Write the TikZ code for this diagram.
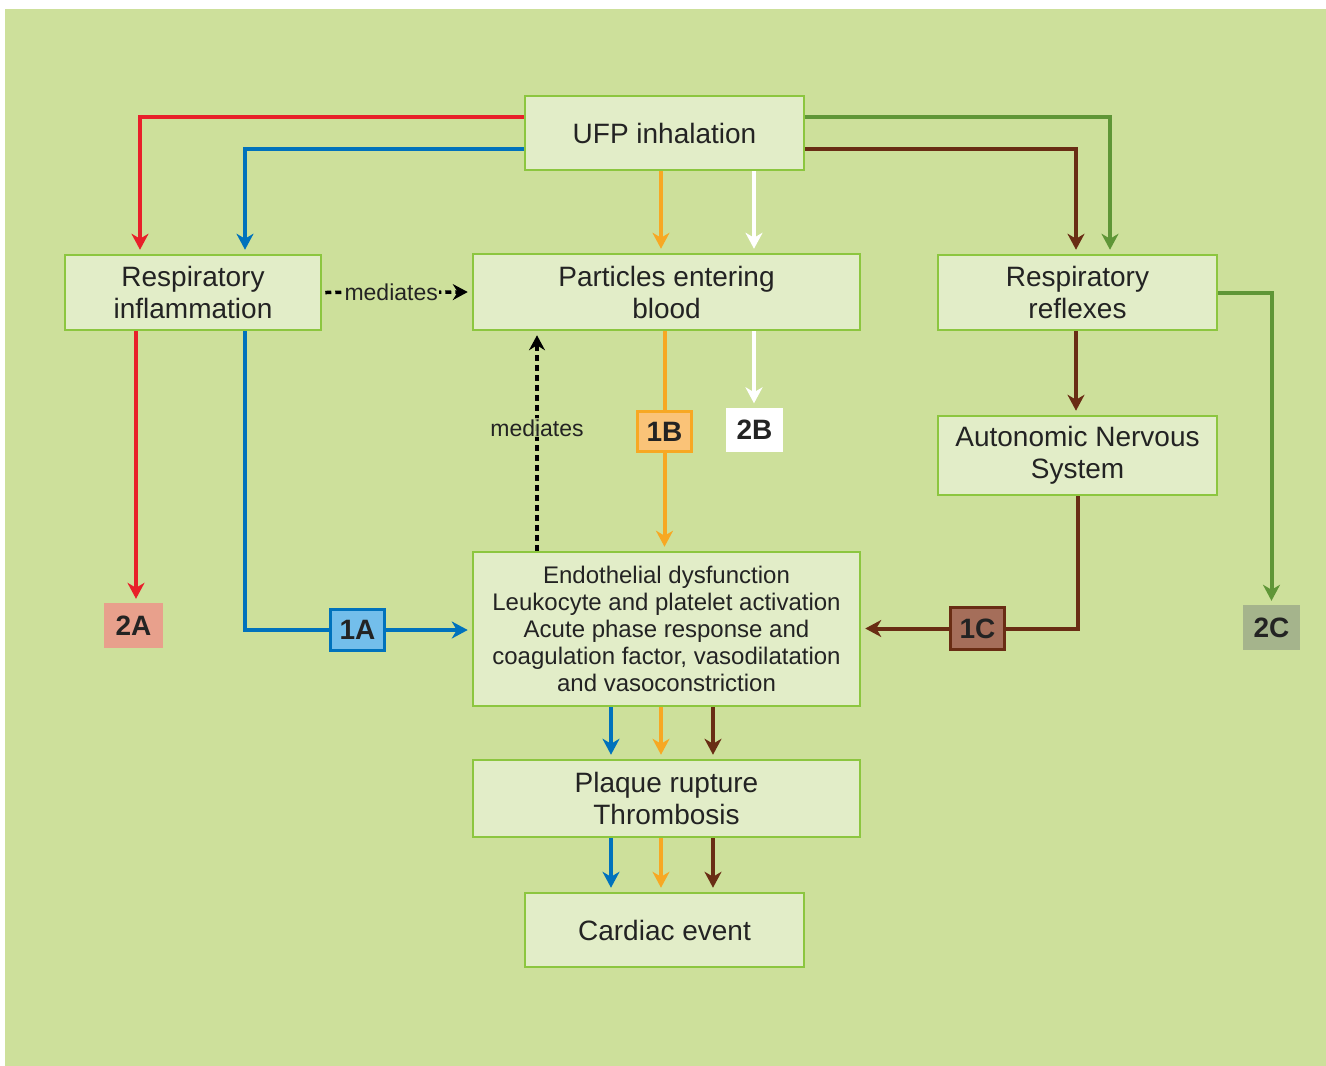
\documentclass[tikz,border=0pt]{standalone}
\usepackage{fontspec}
\setmainfont{Liberation Sans}
\usetikzlibrary{arrows.meta}
\definecolor{bgc}{RGB}{205,224,155}
\definecolor{boxfill}{RGB}{226,237,200}
\definecolor{boxline}{RGB}{140,198,63}
\definecolor{txt}{RGB}{35,35,35}
\definecolor{cRed}{RGB}{232,32,42}
\definecolor{cBlue}{RGB}{0,114,188}
\definecolor{cOrange}{RGB}{247,168,35}
\definecolor{cBrown}{RGB}{105,45,20}
\definecolor{cGreen}{RGB}{95,150,55}
\definecolor{fA}{RGB}{232,160,140}
\definecolor{fOneA}{RGB}{115,190,235}
\definecolor{fOneB}{RGB}{250,195,120}
\definecolor{fOneC}{RGB}{165,110,90}
\definecolor{fC}{RGB}{165,180,140}
\tikzset{
  box/.style={draw=boxline, fill=boxfill, line width=2.5pt, inner sep=0pt, align=center,
    text=txt, font=\fontsize{28}{32}\selectfont},
  smallbox/.style={box, font=\fontsize{24}{27}\selectfont},
  lab/.style={inner sep=0pt, minimum width=57pt, minimum height=44pt, text=txt,
    font=\fontsize{28}{30}\selectfont\bfseries},
  ar/.style={line width=4pt, -{Stealth[length=16pt,width=17pt,inset=5pt]}, shorten >=4pt},
  dots/.style={line width=3.5pt, dash pattern=on 6pt off 4pt, black,
    -{Stealth[length=15pt,width=16pt,inset=5pt]}, shorten >=4pt},
  medl/.style={fill=bgc, inner sep=1pt, text=txt, font=\fontsize{23}{25}\selectfont}
}
\begin{document}
\begin{tikzpicture}[x=1pt,y=-1pt]
\useasboundingbox (0,0) rectangle (1326,1066);
\fill[bgc] (5,9) rectangle (1326,1066);
% boxes
\node[box, minimum width=279pt, minimum height=74pt] (ufp) at (664.5,133) {UFP inhalation};
\node[box, minimum width=256pt, minimum height=75pt] (resp) at (193,292.5) {Respiratory\\inflammation};
\node[box, minimum width=387pt, minimum height=76pt] (part) at (666.5,292) {Particles entering\\blood};
\node[box, minimum width=279pt, minimum height=75pt] (refl) at (1077.5,292.5) {Respiratory\\reflexes};
\node[box, minimum width=279pt, minimum height=79pt] (ans) at (1077.5,455.5) {Autonomic Nervous\\System};
\node[smallbox, minimum width=387pt, minimum height=154pt] (endo) at (666.5,629) {Endothelial dysfunction\\Leukocyte and platelet activation\\Acute phase response and\\coagulation factor, vasodilatation\\and vasoconstriction};
\node[box, minimum width=387pt, minimum height=77pt] (plaque) at (666.5,798.5) {Plaque rupture\\Thrombosis};
\node[box, minimum width=279pt, minimum height=74pt] (card) at (664.5,930) {Cardiac event};
% labels
\node[lab, fill=fA, minimum width=59pt, minimum height=45pt] (l2A) at (133.5,625.5) {2A};
\node[lab, fill=fOneA, draw=cBlue, line width=3.5pt, minimum width=54pt, minimum height=41pt] (l1A) at (357.5,630) {1A};
\node[lab, fill=fOneB, draw=cOrange, line width=3.5pt, minimum width=54pt, minimum height=40pt] (l1B) at (664.5,431.5) {1B};
\node[lab, fill=white] (l2B) at (754.5,429.5) {2B};
\node[lab, fill=fOneC, draw=cBrown, line width=3.5pt, minimum width=54pt, minimum height=42pt] (l1C) at (977.5,628.5) {1C};
\node[lab, fill=fC, minimum height=45pt] (l2C) at (1271.5,627.5) {2C};
% red
\draw[ar,cRed] (ufp.west |- 0,117) -| (140,0 |- resp.north);
\draw[ar,cRed] (136,0 |- resp.south) -- (136,0 |- l2A.north);
% blue
\draw[ar,cBlue] (ufp.west |- 0,149) -| (245,0 |- resp.north);
\draw[line width=4pt,cBlue] (245,0 |- resp.south) |- (l1A.west);
\draw[ar,cBlue] (l1A.east) -- (l1A.east -| endo.west);
% orange
\draw[ar,cOrange] (661,0 |- ufp.south) -- (661,0 |- part.north);
\draw[line width=4pt,cOrange] (664.5,0 |- part.south) -- (l1B.north);
\draw[ar,cOrange] (l1B.south) -- (664.5,0 |- endo.north);
% white
\draw[ar,white] (754,0 |- ufp.south) -- (754,0 |- part.north);
\draw[ar,white] (754,0 |- part.south) -- (754,0 |- l2B.north);
% green
\draw[ar,cGreen] (ufp.east |- 0,117) -| (1110,0 |- refl.north);
\draw[ar,cGreen] (refl.east |- 0,293) -| (l2C.north);
% brown
\draw[ar,cBrown] (ufp.east |- 0,149) -| (1076,0 |- refl.north);
\draw[ar,cBrown] (1076,0 |- refl.south) -- (1076,0 |- ans.north);
\draw[line width=4pt,cBrown] (1078,0 |- ans.south) |- (l1C.east);
\draw[ar,cBrown] (l1C.west) -- (l1C.west -| endo.east);
% triple arrows
\draw[ar,cBlue] (611,0 |- endo.south) -- (611,0 |- plaque.north);
\draw[ar,cOrange] (661,0 |- endo.south) -- (661,0 |- plaque.north);
\draw[ar,cBrown] (713,0 |- endo.south) -- (713,0 |- plaque.north);
\draw[ar,cBlue] (611,0 |- plaque.south) -- (611,0 |- card.north);
\draw[ar,cOrange] (661,0 |- plaque.south) -- (661,0 |- card.north);
\draw[ar,cBrown] (713,0 |- plaque.south) -- (713,0 |- card.north);
% mediates
\draw[dots] ([xshift=3pt]resp.east) -- node[medl, pos=0.45] (m1) {mediates} (part.west);
\draw[dots] (537,0 |- endo.north) -- node[medl, pos=0.56, fill opacity=0.85, text opacity=1] (m2) {mediates} (537,0 |- part.south);
\end{tikzpicture}
\end{document}
